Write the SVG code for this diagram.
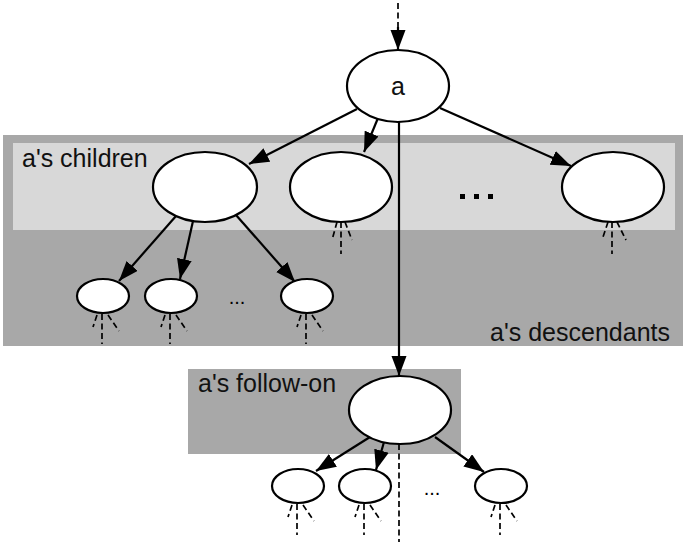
<svg xmlns="http://www.w3.org/2000/svg" width="685" height="542" viewBox="0 0 685 542">
<style>
.node{fill:#fff;stroke:#000;stroke-width:2.2}
.edge{stroke:#000;stroke-width:2.2;fill:none}
.dash{stroke:#000;stroke-width:1.7;fill:none;stroke-dasharray:6,3.5}
.lbl{font-family:"Liberation Sans",Arial,sans-serif;font-size:25px;fill:#111}
.dots{font-family:"Liberation Sans",Arial,sans-serif;font-size:20px;fill:#000}
</style>
<defs>
<marker id="ah" markerUnits="userSpaceOnUse" markerWidth="21" markerHeight="16" refX="20" refY="7.5" orient="auto">
<path d="M0,0 L20,7.5 L0,15 z" fill="#000"/>
</marker>
</defs>
<rect width="685" height="542" fill="#fff"/>
<g id="descendants-box">
<rect x="3" y="135" width="680" height="211" fill="#a8a8a8"/>
<text class="lbl" x="670" y="341" text-anchor="end">a's descendants</text>
</g>
<g id="children-box">
<rect x="13" y="143" width="662" height="87" fill="#d8d8d8"/>
<text class="lbl" x="22" y="167">a's children</text>
</g>
<g id="followon-box">
<rect x="188" y="369" width="273" height="85" fill="#a8a8a8"/>
<text class="lbl" x="198" y="392">a's follow-on</text>
</g>
<g id="connectors">
<line class="dash" x1="398" y1="3" x2="398" y2="30"/>
<line class="edge" x1="398" y1="27" x2="398" y2="50" marker-end="url(#ah)"/>
<line class="edge" x1="357" y1="109" x2="249" y2="164" marker-end="url(#ah)"/>
<line class="edge" x1="378" y1="118" x2="364" y2="152" marker-end="url(#ah)"/>
<line class="edge" x1="440" y1="108" x2="571" y2="166" marker-end="url(#ah)"/>
<line class="edge" x1="399" y1="122" x2="399" y2="376" marker-end="url(#ah)"/>
<line class="edge" x1="176" y1="216" x2="119" y2="281" marker-end="url(#ah)"/>
<line class="edge" x1="193" y1="221" x2="180" y2="279" marker-end="url(#ah)"/>
<line class="edge" x1="236" y1="215" x2="295" y2="282" marker-end="url(#ah)"/>
<line class="edge" x1="370" y1="437" x2="316" y2="471" marker-end="url(#ah)"/>
<line class="edge" x1="384" y1="442" x2="376" y2="470" marker-end="url(#ah)"/>
<line class="edge" x1="435" y1="437" x2="484" y2="472" marker-end="url(#ah)"/>
<line class="dash" x1="399" y1="444" x2="399" y2="542"/>
<g id="stubs-c2">
<line class="dash" x1="337" y1="222" x2="332" y2="240"/>
<line class="dash" x1="341" y1="222" x2="341" y2="254"/>
<line class="dash" x1="345" y1="222" x2="352" y2="240"/>
</g>
<g id="stubs-c3">
<line class="dash" x1="608" y1="222" x2="602" y2="240"/>
<line class="dash" x1="612" y1="222" x2="612" y2="254"/>
<line class="dash" x1="617" y1="222" x2="626" y2="240"/>
</g>
<g id="stubs-g1">
<line class="dash" x1="97" y1="315" x2="93" y2="327"/>
<line class="dash" x1="102" y1="314" x2="102" y2="344"/>
<line class="dash" x1="108" y1="315" x2="119" y2="331"/>
</g>
<g id="stubs-g2">
<line class="dash" x1="165" y1="315" x2="161" y2="327"/>
<line class="dash" x1="170" y1="314" x2="170" y2="344"/>
<line class="dash" x1="176" y1="315" x2="187" y2="331"/>
</g>
<g id="stubs-g3">
<line class="dash" x1="301" y1="315" x2="297" y2="327"/>
<line class="dash" x1="306" y1="314" x2="306" y2="344"/>
<line class="dash" x1="312" y1="315" x2="323" y2="331"/>
</g>
<g id="stubs-f1">
<line class="dash" x1="292" y1="505" x2="288" y2="517"/>
<line class="dash" x1="297" y1="504" x2="297" y2="535"/>
<line class="dash" x1="303" y1="505" x2="314" y2="521"/>
</g>
<g id="stubs-f2">
<line class="dash" x1="359" y1="505" x2="355" y2="517"/>
<line class="dash" x1="364" y1="504" x2="364" y2="535"/>
<line class="dash" x1="370" y1="505" x2="381" y2="521"/>
</g>
<g id="stubs-f3">
<line class="dash" x1="495" y1="505" x2="491" y2="517"/>
<line class="dash" x1="500" y1="504" x2="500" y2="535"/>
<line class="dash" x1="506" y1="505" x2="517" y2="521"/>
</g>
</g>
<g id="node-a">
<ellipse class="node" cx="398" cy="86" rx="51" ry="36"/>
<text x="398" y="95" text-anchor="middle" font-family="Liberation Sans, Arial, sans-serif" font-size="25" fill="#111">a</text>
</g>
<g id="child1"><ellipse class="node" cx="205" cy="187" rx="52" ry="35"/></g>
<g id="child2"><ellipse class="node" cx="341" cy="187" rx="51" ry="35"/></g>
<g id="child-dots">
<rect x="460" y="194" width="5" height="5" fill="#000"/>
<rect x="474" y="194" width="5" height="5" fill="#000"/>
<rect x="488" y="194" width="5" height="5" fill="#000"/>
</g>
<g id="child3"><ellipse class="node" cx="613" cy="187" rx="51" ry="35"/></g>
<g id="gc1"><ellipse class="node" cx="103" cy="296" rx="26" ry="17"/></g>
<g id="gc2"><ellipse class="node" cx="171" cy="296" rx="26" ry="17"/></g>
<g id="gc-dots"><text class="dots" x="237" y="304" text-anchor="middle">...</text></g>
<g id="gc3"><ellipse class="node" cx="307" cy="296" rx="26" ry="17"/></g>
<g id="followon"><ellipse class="node" cx="400" cy="410" rx="51" ry="34"/></g>
<g id="fc1"><ellipse class="node" cx="298" cy="486" rx="26" ry="17"/></g>
<g id="fc2"><ellipse class="node" cx="365" cy="486" rx="26" ry="17"/></g>
<g id="fc-dots"><text class="dots" x="432" y="495" text-anchor="middle">...</text></g>
<g id="fc3"><ellipse class="node" cx="501" cy="486" rx="26" ry="17"/></g>
</svg>
